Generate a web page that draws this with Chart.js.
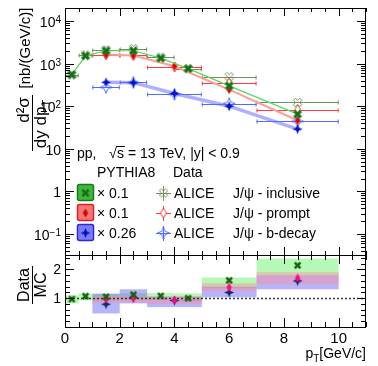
<!DOCTYPE html>
<html>
<head>
<meta charset="utf-8">
<script src="https://cdn.jsdelivr.net/npm/chart.js@4"></script>
<style>
  body { margin: 0; background: #fff; }
  #wrap { position: relative; width: 378px; height: 366px; }
  #wrap canvas { position: absolute; left: 0; top: 0; }
</style>
</head>
<body>
<div id="wrap">
  <canvas id="top" width="378" height="366"></canvas>
  <canvas id="ratio" width="378" height="366"></canvas>
</div>
<script>
// pT bins
const inclPt = [0.25, 0.75, 1.5, 2.5, 3.5, 4.5, 6, 8.5];
const inclLo = [0, 0.5, 1, 2, 3, 4, 5, 7];
const inclHi = [0.5, 1, 2, 3, 4, 5, 7, 10];
const sepPt = [1.5, 2.5, 4, 6, 8.5];
const sepLo = [1, 2, 3, 5, 7];
const sepHi = [2, 3, 5, 7, 10];

// PYTHIA8 (scaled), nb/(GeV/c)
const mcIncl = [550, 1520, 2000, 2000, 1340, 760, 300, 65];
const mcPrompt = [1630, 1540, 865, 245, 46];
const mcBdecay = [364, 357, 198, 100, 29];

// ALICE data
const dataIncl = [540, 1600, 2100, 2250, 1420, 760, 495, 122];
const dataPrompt = [1600, 1550, 830, 357, 83];
const dataBdecay = [277, 360, 190, 115, 44];

// Data / MC
const ratioIncl = [0.97, 1.07, 1.05, 1.12, 1.08, 1.0, 1.62, 2.14];
const ratioPrompt = [0.97, 1.0, 0.93, 1.38, 1.7];
const ratioBdecay = [0.79, 1.02, 0.92, 1.2, 1.6];

// Data / MC uncertainty bands
const bandInclLo = [0.82, 0.93, 0.9, 0.95, 0.95, 0.88, 1.35, 1.8];
const bandInclHi = [1.1, 1.17, 1.14, 1.17, 1.18, 1.17, 1.72, 2.38];
const bandPromptLo = [0.83, 0.85, 0.8, 1.24, 1.48];
const bandPromptHi = [1.08, 1.08, 1.07, 1.52, 1.9];
const bandBdecayLo = [0.47, 0.82, 0.69, 1.03, 1.31];
const bandBdecayHi = [1.16, 1.31, 1.05, 1.4, 1.8];

// axis labels
const xTickLabels = ['0', '2', '4', '6', '8', '10'];
const yDecades = [-1, 0, 1, 2, 3, 4];
const ratioTickLabels = ['1', '2'];
const legendScale = ['\u00d7 0.1', '\u00d7 0.1', '\u00d7 0.26'];
const legendName = ['J/\u03c8 - inclusive', 'J/\u03c8 - prompt', 'J/\u03c8 - b-decay'];

const FONT = '"Liberation Sans", Arial, sans-serif';

// Marker images (ROOT-like shapes)
function marker(shape, r, fill, stroke, lw) {
    const s = Math.ceil(2 * r + lw + 3);
    const c = document.createElement('canvas');
    c.width = s; c.height = s;
    const g = c.getContext('2d');
    g.translate(s / 2, s / 2);
    let pts;
    if (shape === 'x' || shape === 'plus') {
        const t = r * 0.32;
        pts = [[-t,-r],[t,-r],[t,-t],[r,-t],[r,t],[t,t],[t,r],[-t,r],[-t,t],[-r,t],[-r,-t],[-t,-t]];
        if (shape === 'x') pts = pts.map(([x, y]) => [(x - y) * Math.SQRT1_2, (x + y) * Math.SQRT1_2]);
    } else if (shape === 'diamond') {
        pts = [[0,-r],[r*0.6,0],[0,r],[-r*0.6,0]];
    } else {
        const w = r * 0.28;
        pts = [[0,-r],[w,-w],[r,0],[w,w],[0,r],[-w,w],[-r,0],[-w,-w]];
    }
    g.beginPath();
    pts.forEach(([x, y], i) => i ? g.lineTo(x, y) : g.moveTo(x, y));
    g.closePath();
    if (fill) { g.fillStyle = fill; g.fill(); }
    if (stroke) { g.strokeStyle = stroke; g.lineWidth = lw; g.stroke(); }
    return c;
}

const colIncl = '#74905a', colPrompt = '#ff3b3b', colBdecay = '#4f6cff';

const mkMcIncl = marker('x', 4.5, '#146c14', '#3c9a3c', 0.8);
const mkMcPrompt = marker('diamond', 4.5, '#e00000', null, 0);
const mkMcBdecay = marker('star', 5, '#0010c8', null, 0);
const mkDataIncl = marker('x', 4.5, null, colIncl, 1);
const mkDataPrompt = marker('diamond', 5, '#fff', colPrompt, 1);
const mkDataBdecay = marker('star', 6, null, colBdecay, 1);
const mkRIncl = marker('x', 4, '#1d5e10', null, 0);
const mkRPrompt = marker('diamond', 4.5, '#ff0a80', null, 0);
const mkRBdecay = marker('star', 5, '#0b2a6e', null, 0);

const xy = (xs, ys) => xs.map((x, i) => ({ x: x, y: ys[i] }));

function line(ctx, x0, y0, x1, y1) {
    ctx.beginPath(); ctx.moveTo(x0, y0); ctx.lineTo(x1, y1); ctx.stroke();
}

// frame and inner ticks
function drawFrame(chart, yTicks, xLen) {
    const { ctx, chartArea: a } = chart;
    const xs = chart.scales.x, ys = chart.scales.y;
    ctx.save();
    ctx.strokeStyle = '#000';
    ctx.lineWidth = 1;
    ctx.strokeRect(a.left + 0.5, a.top + 0.5, a.right - a.left - 1, a.bottom - a.top);
    for (let v = 0; v <= 11; v += 0.5) {
        const px = Math.round(xs.getPixelForValue(v)) + 0.5;
        const len = v % 2 === 0 ? xLen[0] : xLen[1];
        line(ctx, px, a.top, px, a.top + len);
        line(ctx, px, a.bottom, px, a.bottom - len);
    }
    yTicks.forEach(([v, len]) => {
        const py = Math.round(ys.getPixelForValue(v)) + 0.5;
        line(ctx, a.left, py, a.left + len, py);
        line(ctx, a.right, py, a.right - len, py);
    });
    ctx.restore();
}

function drawErrX(ctx, xs, ys, pts, lo, hi, vals, color) {
    ctx.strokeStyle = color;
    ctx.lineWidth = 1;
    vals.forEach((v, i) => {
        const y = Math.round(ys.getPixelForValue(v)) + 0.5;
        const x0 = xs.getPixelForValue(lo[i]), x1 = xs.getPixelForValue(hi[i]);
        line(ctx, x0, y, x1, y);
        line(ctx, x0 + 0.5, y - 2, x0 + 0.5, y + 2);
        line(ctx, x1 - 0.5, y - 2, x1 - 0.5, y + 2);
    });
}

const topPlugin = {
    id: 'topPanel',
    beforeDatasetsDraw(chart) {
        const { ctx, chartArea: a } = chart;
        const xs = chart.scales.x, ys = chart.scales.y;
        ctx.save();
        ctx.beginPath(); ctx.rect(a.left, a.top, a.right - a.left, a.bottom - a.top); ctx.clip();
        drawErrX(ctx, xs, ys, inclPt, inclLo, inclHi, dataIncl, colIncl);
        drawErrX(ctx, xs, ys, sepPt, sepLo, sepHi, dataPrompt, colPrompt);
        drawErrX(ctx, xs, ys, sepPt, sepLo, sepHi, dataBdecay, colBdecay);
        ctx.restore();
    },
    afterDraw(chart) {
        const { ctx, chartArea: a } = chart;
        const ys = chart.scales.y;
        const ticks = [];
        for (let d = -2; d <= 4; d++) {
            for (let k = 1; k <= 9; k++) {
                const v = k * Math.pow(10, d);
                if (v >= ys.min && v <= ys.max) ticks.push([v, k === 1 ? 9 : 5]);
            }
        }
        drawFrame(chart, ticks, [8, 4]);

        ctx.save();
        ctx.fillStyle = '#000';
        ctx.textBaseline = 'alphabetic';
        // y tick labels
        yDecades.forEach(e => {
            const py = ys.getPixelForValue(Math.pow(10, e));
            const right = a.left - 4;
            ctx.font = '14px ' + FONT;
            if (e === 0 || e === 1) {
                ctx.textAlign = 'right';
                ctx.fillText(e === 0 ? '1' : '10', right, py + 6);
            } else {
                const sup = e < 0 ? '\u2212' + (-e) : String(e);
                ctx.font = '10px ' + FONT;
                const sw = ctx.measureText(sup).width;
                ctx.textAlign = 'right';
                ctx.fillText(sup, right, py + 2);
                ctx.font = '14px ' + FONT;
                ctx.fillText('10', right - sw, py + 6);
            }
        });

        // y axis title
        ctx.save();
        ctx.rotate(-Math.PI / 2);
        ctx.textAlign = 'center';
        ctx.font = '15px ' + FONT;
        ctx.fillText('[nb/(GeV/c)]', -48, 30);
        ctx.font = '17px ' + FONT;
        ctx.fillText('d\u00b2\u03c3', -110, 29);
        ctx.lineWidth = 1;
        ctx.strokeStyle = '#000';
        line(ctx, -151, 32.5, -95, 32.5);
        ctx.textAlign = 'left';
        const den = 'dy dp';
        const dw = ctx.measureText(den).width;
        ctx.font = '11px ' + FONT;
        const tw = ctx.measureText('T').width;
        const start = -124 - (dw + tw) / 2;
        ctx.font = '17px ' + FONT;
        ctx.fillText(den, start, 46);
        ctx.font = '11px ' + FONT;
        ctx.fillText('T', start + dw, 50);
        ctx.restore();

        // header text
        ctx.font = '14px ' + FONT;
        ctx.textAlign = 'left';
        ctx.fillText('pp,', 77, 158);
        ctx.fillText('\u221a', 109, 158);
        ctx.fillText('s', 117, 158);
        ctx.lineWidth = 1;
        line(ctx, 116, 146.5, 125, 146.5);
        ctx.fillText('= 13 TeV, |y| < 0.9', 128, 158);
        ctx.fillText('PYTHIA8', 97, 177);
        ctx.fillText('Data', 173, 177);

        // legend rows
        const boxFill = ['#3cb83c', '#f07878', '#7c7cf4'];
        const boxLine = ['#1a7a1a', '#e02020', '#2828e0'];
        const mcMk = [mkMcIncl, mkMcPrompt, mkMcBdecay];
        const dMk = [mkDataIncl, mkDataPrompt, mkDataBdecay];
        const dCol = [colIncl, colPrompt, colBdecay];
        [193, 213, 233].forEach((ry, i) => {
            ctx.fillStyle = boxFill[i];
            ctx.strokeStyle = boxLine[i];
            ctx.lineWidth = 1.5;
            ctx.beginPath();
            ctx.roundRect(77.5, ry - 8.5, 16, 16, 2);
            ctx.fill(); ctx.stroke();
            ctx.drawImage(mcMk[i], 85.5 - mcMk[i].width / 2, ry - mcMk[i].height / 2);
            ctx.strokeStyle = dCol[i];
            ctx.lineWidth = 1;
            line(ctx, 156, ry + 0.5, 171, ry + 0.5);
            line(ctx, 163.5, ry - 7, 163.5, ry + 8);
            ctx.drawImage(dMk[i], 163.5 - dMk[i].width / 2, ry - dMk[i].height / 2);
            ctx.fillStyle = '#000';
            ctx.font = '14px ' + FONT;
            ctx.fillText(legendScale[i], 97, ry + 5);
            ctx.fillText('ALICE', 174, ry + 5);
            ctx.fillText(legendName[i], 233, ry + 5);
        });
        ctx.restore();
    }
};

const ratioPlugin = {
    id: 'ratioPanel',
    beforeDatasetsDraw(chart) {
        const { ctx, chartArea: a } = chart;
        const xs = chart.scales.x, ys = chart.scales.y;
        const band = (lo, hi, bl, bh, color) => {
            ctx.fillStyle = color;
            lo.forEach((l, i) => {
                const x0 = xs.getPixelForValue(bl[i]), x1 = xs.getPixelForValue(bh[i]);
                const y0 = ys.getPixelForValue(hi[i]), y1 = ys.getPixelForValue(l);
                ctx.fillRect(x0, y0, x1 - x0, y1 - y0);
            });
        };
        ctx.save();
        band(bandInclLo, bandInclHi, inclLo, inclHi, 'rgba(80,240,80,0.42)');
        band(bandBdecayLo, bandBdecayHi, sepLo, sepHi, 'rgba(90,90,240,0.45)');
        band(bandPromptLo, bandPromptHi, sepLo, sepHi, 'rgba(255,140,160,0.45)');
        ctx.strokeStyle = '#333';
        ctx.lineWidth = 1.5;
        ctx.setLineDash([2, 2]);
        const y1 = Math.round(ys.getPixelForValue(1)) + 0.5;
        line(ctx, a.left, y1, a.right, y1);
        ctx.restore();
    },
    afterDraw(chart) {
        const { ctx, chartArea: a } = chart;
        const xs = chart.scales.x, ys = chart.scales.y;
        const ticks = [];
        for (let i = 0; i <= 12; i++) {
            const v = i * 0.2;
            ticks.push([v, i % 5 === 0 ? 9 : 5]);
        }
        drawFrame(chart, ticks, [9, 5]);
        ctx.save();
        ctx.fillStyle = '#000';
        ctx.font = '15px ' + FONT;
        ctx.textAlign = 'center';
        xTickLabels.forEach(t => ctx.fillText(t, xs.getPixelForValue(Number(t)), 343));
        ctx.font = '14px ' + FONT;
        ctx.textAlign = 'right';
        ratioTickLabels.forEach(t => ctx.fillText(t, a.left - 4, ys.getPixelForValue(Number(t)) + 5));

        // x title
        ctx.font = '14px ' + FONT;
        const tail = '[GeV/c]';
        const wt = ctx.measureText(tail).width;
        ctx.textAlign = 'left';
        ctx.fillText(tail, 366 - wt, 358);
        ctx.font = '10px ' + FONT;
        const wT = ctx.measureText('T').width;
        ctx.fillText('T', 366 - wt - wT, 362);
        ctx.font = '14px ' + FONT;
        const wp = ctx.measureText('p').width;
        ctx.fillText('p', 366 - wt - wT - wp, 358);

        // y title
        ctx.save();
        ctx.rotate(-Math.PI / 2);
        ctx.textAlign = 'center';
        ctx.font = '16px ' + FONT;
        ctx.fillText('Data', -285, 29);
        ctx.fillText('MC', -285, 46);
        ctx.strokeStyle = '#000';
        ctx.lineWidth = 1;
        line(ctx, -304, 32.5, -266, 32.5);
        ctx.restore();
        ctx.restore();
    }
};

new Chart(document.getElementById('top'), {
    type: 'line',
    data: {
        datasets: [
            { data: xy(inclPt, mcIncl), borderColor: '#5ad75a', borderWidth: 1.2, pointStyle: mkMcIncl, pointRadius: 4 },
            { data: xy(sepPt, mcPrompt), borderColor: '#ff9c9c', borderWidth: 2, pointStyle: mkMcPrompt, pointRadius: 4 },
            { data: xy(sepPt, mcBdecay), borderColor: 'rgba(110,110,255,0.55)', borderWidth: 3.5, pointStyle: mkMcBdecay, pointRadius: 4 },
            { data: xy(inclPt, dataIncl), showLine: false, pointStyle: mkDataIncl, pointRadius: 4 },
            { data: xy(sepPt, dataPrompt), showLine: false, pointStyle: mkDataPrompt, pointRadius: 4 },
            { data: xy(sepPt, dataBdecay), showLine: false, pointStyle: mkDataBdecay, pointRadius: 4 }
        ]
    },
    options: {
        responsive: false,
        animation: false,
        layout: { padding: { left: 65, right: 12, top: 8, bottom: 111 } },
        plugins: { legend: { display: false }, tooltip: { enabled: false } },
        scales: {
            x: { type: 'linear', min: 0, max: 11, display: false },
            y: { type: 'logarithmic', min: 0.032, max: 20200, display: false }
        }
    },
    plugins: [topPlugin]
});

new Chart(document.getElementById('ratio'), {
    type: 'scatter',
    data: {
        datasets: [
            { data: xy(inclPt, ratioIncl), pointStyle: mkRIncl, pointRadius: 4 },
            { data: xy(sepPt, ratioPrompt), pointStyle: mkRPrompt, pointRadius: 4 },
            { data: xy(sepPt, ratioBdecay), pointStyle: mkRBdecay, pointRadius: 4 }
        ]
    },
    options: {
        responsive: false,
        animation: false,
        layout: { padding: { left: 65, right: 12, top: 255, bottom: 39 } },
        plugins: { legend: { display: false }, tooltip: { enabled: false } },
        scales: {
            x: { type: 'linear', min: 0, max: 11, display: false },
            y: { type: 'linear', min: 0, max: 2.5, display: false }
        }
    },
    plugins: [ratioPlugin]
});
</script>
</body>
</html>
